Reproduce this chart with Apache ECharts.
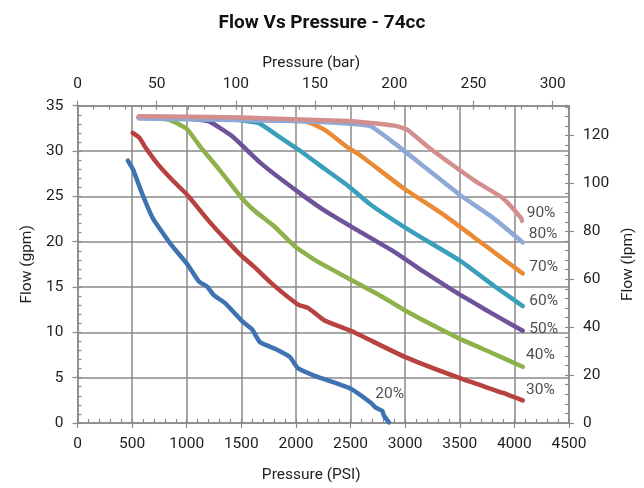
<!DOCTYPE html>
<html>
<head>
<meta charset="utf-8">
<script src="https://cdn.jsdelivr.net/npm/echarts@6/dist/echarts.min.js"></script>
<style>html,body{margin:0;padding:0;background:#fff}#c{width:644px;height:488px}</style>
</head>
<body>
<div id="c"></div>
<script>
// ---- data: [pressure PSI, flow gpm] ----
const s20 = [[461,28.94],[507,28.0],[597,25.15],[688,22.6],[749,21.5],[855,19.7],[1006,17.5],[1112,15.6],[1187,15.05],[1248,14.1],[1354,13.2],[1505,11.26],[1596,10.36],[1672,8.9],[1808,8.2],[1944,7.29],[2019,6.03],[2171,5.2],[2292,4.7],[2498,3.8],[2685,2.24],[2730,1.7],[2791,1.33],[2806,0.8],[2852,0.07]];
const s30 = [[505,32.0],[567,31.47],[613,30.56],[733,28.58],[870,26.77],[1006,25.15],[1203,22.27],[1354,20.28],[1505,18.4],[1611,17.3],[1777,15.4],[2019,13.07],[2110,12.7],[2262,11.3],[2498,10.2],[2997,7.29],[3502,4.94],[3895,3.32],[4077,2.49]];
const s40 = [[561,33.7],[700,33.65],[840,33.45],[920,33.0],[1006,32.37],[1142,30.2],[1293,28.04],[1505,24.79],[1626,23.35],[1800,21.7],[1989,19.5],[2171,18.0],[2473,16.0],[2750,14.2],[2988,12.5],[3250,10.8],[3502,9.28],[3800,7.7],[4077,6.2]];
const s50 = [[561,33.7],[1000,33.6],[1203,33.27],[1414,31.65],[1686,28.58],[2019,25.5],[2292,23.2],[2600,21.0],[2897,18.9],[3169,16.7],[3441,14.6],[3623,13.3],[3850,11.7],[4077,10.18]];
const s60 = [[561,33.7],[1400,33.5],[1656,33.1],[1838,31.65],[2019,30.2],[2262,28.04],[2473,26.2],[2685,24.07],[3048,21.19],[3502,17.9],[3805,15.2],[4077,12.9]];
const s70 = [[561,33.7],[1800,33.4],[2080,33.27],[2201,32.73],[2292,32.1],[2473,30.4],[2594,29.48],[2988,25.87],[3351,22.98],[3714,19.74],[4077,16.49]];
const s80 = [[561,33.6],[2000,33.3],[2500,33.0],[2685,32.73],[2897,30.9],[3199,28.04],[3502,25.15],[3805,22.63],[4077,19.92]];
const s90 = [[561,33.85],[1500,33.7],[2473,33.3],[2685,33.1],[2900,32.8],[3018,32.37],[3199,30.56],[3441,28.4],[3653,26.6],[3895,24.8],[4061,22.63],[4070,22.3]];
const seriesData = [s20, s30, s40, s50, s60, s70, s80, s90];
const seriesNames = ['20%','30%','40%','50%','60%','70%','80%','90%'];
const seriesColors = ['#3f72b0','#b8423f','#8fb14c','#6f539a','#3a9fbb','#ea8a36','#8ea9d5','#d38f8d'];
// curve label anchor points (left edge of text)
const labelPsi = [2727, 4107, 4107, 4137, 4137, 4137, 4131, 4113];
const labelGpm = [3.14, 3.68, 7.47, 10.36, 13.42, 17.21, 20.82, 23.17];
// axes
const psiMax = 4500, psiStep = 500, psiMinor = 100;
const gpmMax = 35, gpmStep = 5, gpmMinor = 1;
const barMax = psiMax / 14.5038, barStep = 50, barMinor = 10;
const lpmMax = gpmMax * 3.78541, lpmStep = 20, lpmMinor = 4;

const FONT = "Roboto, sans-serif";
const FS = 15.5;
const AX = '#8a8a8a', TXT = '#1e1e1e';
const plain = v => String(v);

function mainAxis(extra) {
  return Object.assign({
    type: 'value', min: 0,
    axisLine: { show: true, onZero: false, lineStyle: { color: AX, width: 1.5 } },
    axisTick: { show: true, inside: false, length: 5, lineStyle: { color: AX, width: 1.2 } },
    splitLine: { show: false },
    nameLocation: 'middle',
    nameTextStyle: { color: TXT, fontFamily: FONT, fontSize: FS }
  }, extra);
}
function minorAxis(extra) {
  return Object.assign({
    type: 'value', min: 0,
    axisLine: { show: false, onZero: false },
    axisTick: { show: true, inside: true, length: 4, lineStyle: { color: AX, width: 1.2 } },
    axisLabel: { show: false },
    splitLine: { show: false }
  }, extra);
}
function lbl(margin, extra) {
  return Object.assign({ color: TXT, fontFamily: FONT, fontSize: FS, margin: margin, formatter: plain }, extra || {});
}

const series = seriesData.map((d, i) => ({
  name: seriesNames[i], type: 'line', data: d, xAxisIndex: 0, yAxisIndex: 0,
  showSymbol: false, symbol: 'none', smooth: 0.15, z: 3 + i,
  lineStyle: { color: seriesColors[i], width: 4.5, cap: 'round', join: 'round' },
  silent: true
}));
series.push({
  type: 'scatter', xAxisIndex: 0, yAxisIndex: 0, symbolSize: 0, z: 20, silent: true,
  data: seriesNames.map((n, i) => [labelPsi[i], labelGpm[i], n]),
  label: { show: true, position: 'right', distance: 0, formatter: p => p.data[2],
    color: TXT, fontFamily: FONT, fontSize: FS }
});

const chart = echarts.init(document.getElementById('c'), null, { renderer: 'canvas' });
chart.setOption({
  animation: false,
  backgroundColor: '#fff',
  title: { text: 'Flow Vs Pressure - 74cc', left: 'center', top: 9,
    textStyle: { fontFamily: 'Roboto', fontWeight: 'bold', fontSize: 19, color: '#111' } },
  grid: { left: 77.5, right: 70.7, top: 105.7, bottom: 59, containLabel: false },
  xAxis: [
    mainAxis({ position: 'bottom', max: psiMax, interval: psiStep, name: 'Pressure (PSI)', nameGap: 44,
      nameTextStyle: { color: TXT, fontFamily: FONT, fontSize: FS, padding: [0, 24, 0, 0] },
      axisLabel: lbl(13),
      splitLine: { show: true, lineStyle: { color: AX, width: 1.5 } } }),
    mainAxis({ position: 'top', max: barMax, interval: barStep, name: 'Pressure (bar)', nameGap: 33,
      nameTextStyle: { color: TXT, fontFamily: FONT, fontSize: FS, padding: [0, 24, 0, 0] },
      axisLabel: lbl(14, { showMaxLabel: false }) }),
    minorAxis({ position: 'bottom', max: psiMax, interval: psiMinor }),
    minorAxis({ position: 'top', max: barMax, interval: barMinor })
  ],
  yAxis: [
    mainAxis({ position: 'left', max: gpmMax, interval: gpmStep, name: 'Flow (gpm)', nameGap: 39,
      axisLabel: lbl(14),
      splitLine: { show: true, lineStyle: { color: AX, width: 1.5 } } }),
    mainAxis({ position: 'right', max: lpmMax, interval: lpmStep, name: 'Flow (lpm)', nameGap: 46,
      axisLabel: lbl(14, { showMaxLabel: false }) }),
    minorAxis({ position: 'left', max: gpmMax, interval: gpmMinor }),
    minorAxis({ position: 'right', max: lpmMax, interval: lpmMinor })
  ],
  series: series
});
</script>
</body>
</html>
